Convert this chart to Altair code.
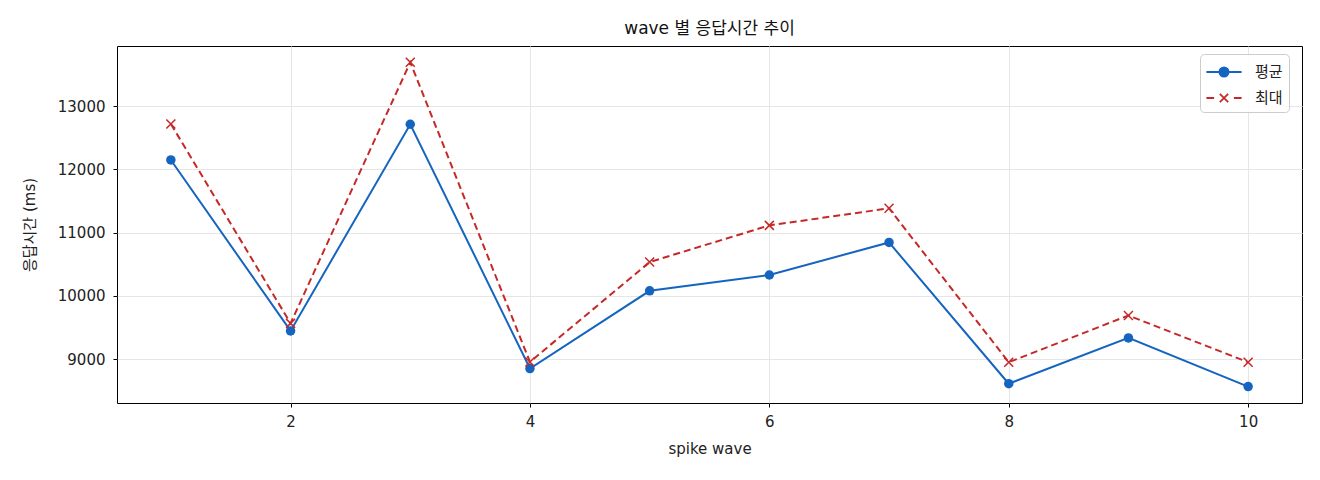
import altair as alt
import pandas as pd

waves = [1, 2, 3, 4, 5, 6, 7, 8, 9, 10]
avg_ms = [12150, 9445, 12715, 8850, 10080, 10330, 10845, 8610, 9335, 8565]
max_ms = [12720, 9565, 13695, 8955, 10535, 11115, 11385, 8950, 9690, 8950]

series_names = ["평균", "최대"]
series_colors = ["#1565C0", "#C62828"]

df = pd.DataFrame({"wave": waves, "평균": avg_ms, "최대": max_ms})

FONT = "DejaVu Sans, Noto Sans CJK KR"
x_scale = alt.Scale(domain=[0.55, 10.45], nice=False, zero=False)
y_scale = alt.Scale(domain=[8305, 13953], nice=False, zero=False)

x_enc = alt.X("wave:Q", scale=x_scale, title="spike wave",
              axis=alt.Axis(values=[2, 4, 6, 8, 10], format="d"))


def y_enc(col):
    return alt.Y(f"{col}:Q", scale=y_scale, title="응답시간 (ms)",
                 axis=alt.Axis(values=[9000, 10000, 11000, 12000, 13000], format="d"))


base = alt.Chart(df)

avg_line = base.mark_line(color=series_colors[0], strokeWidth=2).encode(x=x_enc, y=y_enc("평균"))
avg_pts = base.mark_point(filled=True, shape="circle", size=90, opacity=1,
                          color=series_colors[0]).encode(x=x_enc, y=y_enc("평균"))
max_line = base.mark_line(color=series_colors[1], strokeWidth=2,
                          strokeDash=[7, 4]).encode(x=x_enc, y=y_enc("최대"))
max_pts = base.mark_point(shape="M-1,-1L1,1M-1,1L1,-1", size=81, strokeWidth=1.5,
                          opacity=1, color=series_colors[1]).encode(x=x_enc, y=y_enc("최대"))

# legend only: line + marker symbols drawn as custom paths
legend_paths = [
    "M-1.6,0L1.6,0M0.42,0A0.42,0.42 0 1,1 -0.42,0A0.42,0.42 0 1,1 0.42,0",
    "M-1.6,0L-0.9,0M0.9,0L1.6,0M-0.38,-0.38L0.38,0.38M-0.38,0.38L0.38,-0.38",
]
leg_df = pd.DataFrame({"series": series_names})
lg = alt.Legend(title=None, orient="none", legendX=1083, legendY=8)
legend_layer = alt.Chart(leg_df).mark_point(opacity=1).encode(
    fill=alt.Fill("series:N", scale=alt.Scale(domain=series_names, range=series_colors), legend=lg),
    stroke=alt.Stroke("series:N", scale=alt.Scale(domain=series_names, range=series_colors), legend=lg),
    shape=alt.Shape("series:N", scale=alt.Scale(domain=series_names, range=legend_paths), legend=lg),
).transform_filter("datum.series == 'none'")

chart = alt.layer(
    avg_line, max_line, avg_pts, max_pts, legend_layer
).properties(
    width=1185,
    height=357,
    autosize=alt.AutoSizeParams(type="none"),
    padding={"left": 109, "top": 38, "right": 10, "bottom": 69},
    title=alt.Title("wave 별 응답시간 추이", fontSize=17, fontWeight="normal",
                    font=FONT, color="#111", offset=8),
).configure_view(
    stroke="black", strokeWidth=1
).configure_axis(
    labelFont=FONT, titleFont=FONT, labelFontSize=15, titleFontSize=15,
    titleFontWeight="normal", labelColor="#222", titleColor="#222",
    gridColor="#e6e6e6", gridWidth=1, domain=False,
    tickColor="black", tickSize=4,
).configure_axisY(
    titlePadding=20, labelPadding=8
).configure_axisX(
    titlePadding=12, labelPadding=7
).configure_legend(
    labelFont=FONT, labelFontSize=15, labelColor="#222",
    strokeColor="#cccccc", fillColor="rgba(255,255,255,0.85)", cornerRadius=4,
    padding=6, symbolSize=484, symbolStrokeWidth=1.8, symbolOffset=6,
    labelOffset=19, rowPadding=5,
)

chart.save("out.html", embed_options={"renderer": "svg", "actions": False})
